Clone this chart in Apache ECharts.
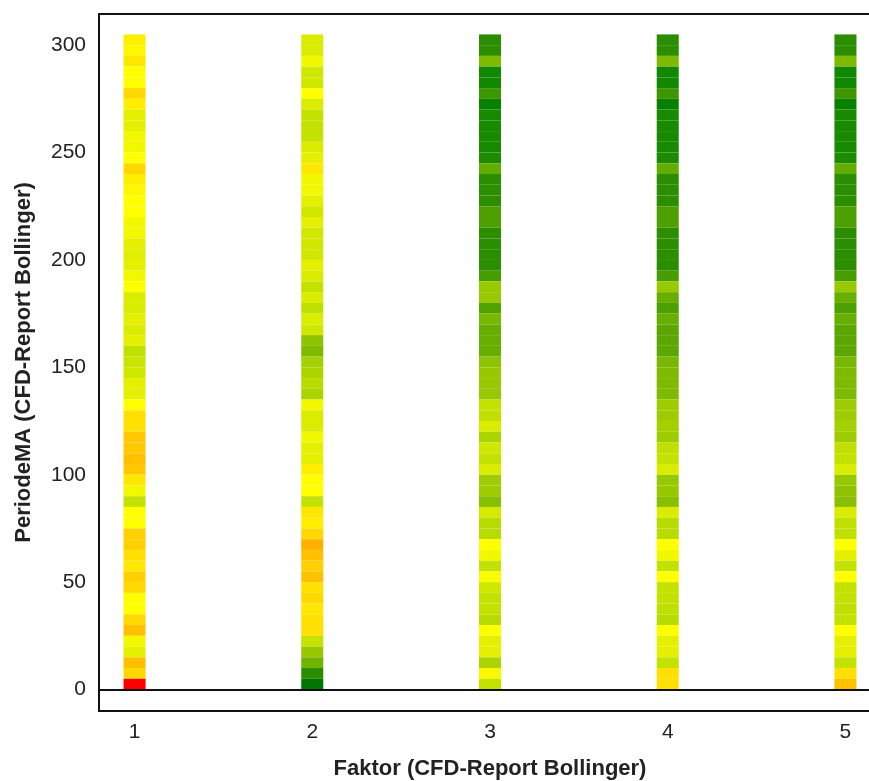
<!DOCTYPE html>
<html>
<head>
<meta charset="utf-8">
<script src="https://cdn.jsdelivr.net/npm/echarts@6/dist/echarts.min.js"></script>
<style>html,body{margin:0;padding:0;background:#fff}#c{width:869px;height:781px}</style>
</head>
<body>
<div id="c"></div>
<script>
// Faktor values (x)
var faktors = [1, 2, 3, 4, 5];
// PeriodeMA values (y), listed from top (300) to bottom (0)
var periods = [300,295,290,285,280,275,270,265,260,255,250,245,240,235,230,225,220,215,210,205,200,195,190,185,180,175,170,165,160,155,150,145,140,135,130,125,120,115,110,105,100,95,90,85,80,75,70,65,60,55,50,45,40,35,30,25,20,15,10,5,0];
// Colour-scale score per cell (0 = red ... 7 = yellow ... 16 = dark green), top to bottom
var scoreF1 = [6,6.5,5.5,7,7,4.5,6,8,8,7.5,7.5,7,4.5,6,6.5,7,7,7.5,7.5,8,8.2,8,7.5,7,8.5,8.5,8,8.5,8,9.7,9.3,9,8,8,7,5,5,3.5,3.5,3,3.5,5.5,7.5,9.5,7,7,4,4,5,5.5,4,4.5,7,7,4.5,3,7.5,8,3,4.5,0];
var scoreF2 = [8.5,8.5,7.5,9,9,7,8.5,9.5,9.5,9.5,8.5,8,5.5,7.5,7.5,8,9,8,9,9,9,8,8.5,9.5,8.5,9.7,8.5,9,11.3,11.8,10.6,10.4,10,10.4,7.5,8.5,8.5,7.5,8,8,6,7,7,9.5,5.5,6,4.5,2,3,4,3,5,4.5,5.5,5,5,9.5,11,12.2,14,16];
var scoreF3 = [14,14,11.8,15,15,13.5,15.5,14.7,14.7,14.7,14.7,14.5,12.5,14,14,14,13,13,14,14,14,14,13.2,11,11,12.9,12,12.4,12.4,12.4,11.3,11,11,11,9.5,9.7,8.5,10.4,9,9.5,8.5,10.8,10.8,11.5,8.7,10,10,7,7.5,9.5,7.2,9,9.5,9.5,10,7,8,8,10.4,6.5,9.5];
var scoreF4 = [14,14,11.8,15,15,13.5,15.5,14.7,14.7,14.7,14.7,14.5,12.5,14,14,14,13,13,14,14,14,14,13.2,11,12.4,13,12.4,12.7,12.7,12.7,12,11.8,11.8,11.8,10.8,10.8,10.6,10.8,9.7,9.5,8.5,11,11,11.5,8.5,10,10,7,7.5,9.5,7,9.5,9.5,9.7,10,7,8,8,9.5,5,5];
var scoreF5 = [14,14,11.8,15,15,13.5,15.5,14.7,14.7,14.7,14.7,14.5,12.5,14,14,14,13,13,14,14,14,14,13.2,11,12.4,13,12.4,12.7,12.7,12.7,12,11.8,11.8,11.8,10.8,10.8,10.6,10.8,9.7,9.5,8.5,11,11.3,11.5,8.5,9.7,9.7,7,8,9.5,7,9.5,9.5,9.7,9.5,7,8,8,9.5,5,3];
var yTicks = [0, 50, 100, 150, 200, 250, 300];
var xTicks = [1, 2, 3, 4, 5];

var scores = [scoreF1, scoreF2, scoreF3, scoreF4, scoreF5];
var data = [];
faktors.forEach(function (f, i) {
  periods.forEach(function (p, j) {
    data.push([f, p, scores[i][j]]);
  });
});

var chart = echarts.init(document.getElementById('c'), null, {renderer: 'canvas'});
var FONT = '"Liberation Sans", Arial, sans-serif';
var HALF_W = 0.062, CELL_H = 5;
chart.setOption({
  animation: false,
  backgroundColor: '#fff',
  grid: {left: 99, top: 14, width: 782, height: 697, show: true, borderColor: '#111', borderWidth: 2, backgroundColor: 'transparent', outerBoundsMode: 'none', containLabel: false},
  xAxis: {
    type: 'value', min: 0.8, max: 5.2,
    name: 'Faktor (CFD-Report Bollinger)', nameLocation: 'middle', nameGap: 47,
    nameTextStyle: {fontFamily: FONT, fontSize: 22, fontWeight: 'bold', color: '#222'},
    axisLine: {show: false, onZero: false}, axisTick: {show: false}, splitLine: {show: false},
    axisLabel: {customValues: xTicks, fontFamily: FONT, fontSize: 21, color: '#222', margin: 11}
  },
  yAxis: {
    type: 'value', min: -10, max: 314.5,
    name: 'PeriodeMA (CFD-Report Bollinger)', nameLocation: 'middle', nameGap: 64,
    nameTextStyle: {fontFamily: FONT, fontSize: 22, fontWeight: 'bold', color: '#222'},
    axisLine: {show: false}, axisTick: {show: false}, splitLine: {show: false},
    axisLabel: {customValues: yTicks, fontFamily: FONT, fontSize: 21, color: '#222', margin: 13}
  },
  visualMap: {
    show: false, type: 'continuous', dimension: 2, min: 0, max: 16,
    inRange: {color: ['#ff0000','#ff8000','#ffb000','#ffc000','#ffd000','#ffe000','#ffee00','#ffff00','#e4f000','#d0e800','#b8dc00','#98c800','#78b800','#4ea000','#2a8e00','#108800','#007800']}
  },
  series: [{
    type: 'custom',
    data: data,
    encode: {x: 0, y: 1},
    renderItem: function (params, api) {
      var x = api.value(0), y = api.value(1);
      var p0 = api.coord([x - HALF_W, y + CELL_H]);
      var p1 = api.coord([x + HALF_W, y]);
      return {type: 'rect', shape: {x: p0[0], y: p0[1], width: p1[0] - p0[0], height: p1[1] - p0[1]}, style: {fill: api.visual('color')}};
    },
    markLine: {
      silent: true, symbol: 'none', label: {show: false},
      lineStyle: {color: '#111', width: 2, type: 'solid'},
      data: [{yAxis: 0}]
    }
  }]
});
</script>
</body>
</html>
